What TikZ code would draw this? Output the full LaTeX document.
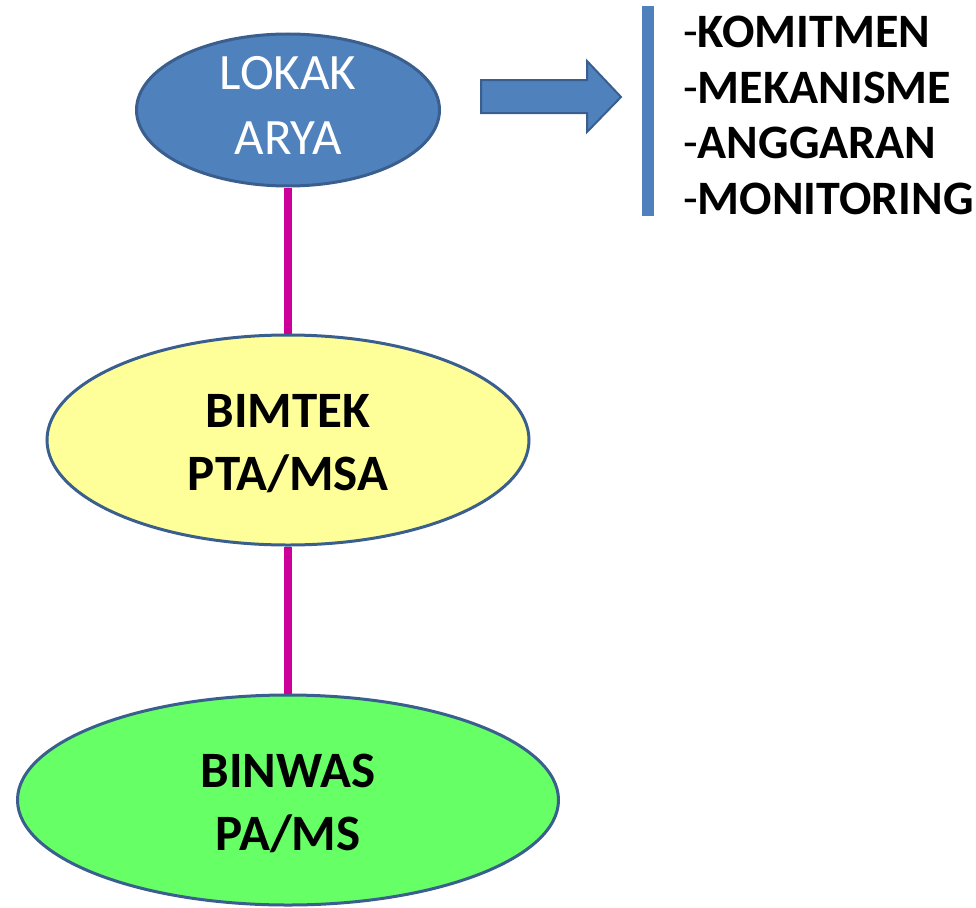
\documentclass[tikz,border=0pt]{standalone}
\usepackage{fontspec}
\setmainfont{Carlito}
\usetikzlibrary{shapes.geometric}
\definecolor{accblue}{HTML}{4F81BD}
\definecolor{edgeblue}{HTML}{3A5F8E}
\definecolor{paleyellow}{HTML}{FFFF99}
\definecolor{brightgreen}{HTML}{66FF66}
\definecolor{linkmag}{HTML}{CC0099}
\tikzset{
  oval/.style={ellipse, draw=edgeblue, line width=3pt, inner sep=0pt},
  ovaltext/.style={inner sep=0pt, align=center, anchor=north, font=\fontsize{51}{64}\selectfont},
  link/.style={draw=linkmag, line width=8pt},
  listtext/.style={inner sep=0pt, align=left, anchor=north west, font=\fontsize{48}{55.5}\selectfont}
}
\begin{document}
\begin{tikzpicture}[x=1pt,y=-1pt]
\useasboundingbox (0,0) rectangle (976,907);
% ellipses
\node[oval, fill=accblue, minimum width=303pt, minimum height=152pt] (top) at (288,110) {};
\node[oval, fill=paleyellow, minimum width=482pt, minimum height=210pt] (mid) at (288,440) {};
\node[oval, fill=brightgreen, minimum width=541pt, minimum height=210pt] (bot) at (288,800) {};
% connectors
\draw[link] (top.south) -- (mid.north);
\draw[link] (mid.south) -- (bot.north);
% texts
\node[ovaltext, text=white, font=\fontsize{51}{65}\selectfont] (toptext) at (288,56) {LOKAK\\ARYA};
\node[ovaltext, font=\bfseries\fontsize{51}{63}\selectfont] (midtext) at (288,394) {BIMTEK\\PTA/MSA};
\node[ovaltext, font=\bfseries\fontsize{51}{63}\selectfont] (bottext) at (288,754) {BINWAS\\PA/MS};
% block arrow
\draw[fill=accblue, draw=edgeblue, line width=2pt, line join=miter]
  (481,80) -- (587,80) -- (587,61) -- (621,97) -- (587,132) -- (587,113) -- (481,113) -- cycle;
% vertical bar
\fill[accblue] (642,6) rectangle (654,216);
% list
\node[listtext] (list) at (683,16) {-\textbf{KOMITMEN}\\-\textbf{MEKANISME}\\-\textbf{ANGGARAN}\\-\textbf{MONITORING}};
\end{tikzpicture}
\end{document}
